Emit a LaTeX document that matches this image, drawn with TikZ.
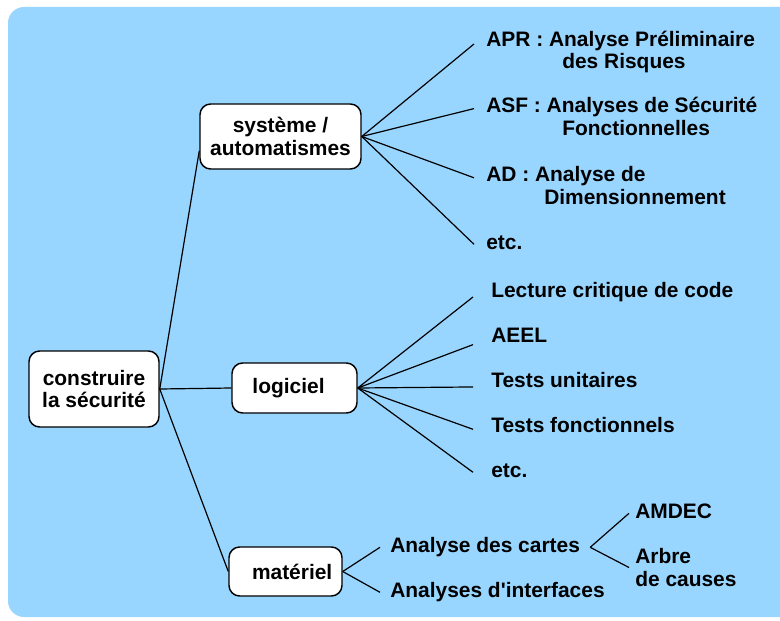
\documentclass[tikz,border=0pt]{standalone}
\usepackage{fontspec}
\setmainfont{Liberation Sans}

\begin{document}
\begin{tikzpicture}[x=0.75pt,y=0.75pt,yscale=-1,xscale=1,
	font=\fontsize{15.7}{17}\selectfont\bfseries,
	box/.style={draw=black,line width=1.1pt,fill=white,rounded corners=8pt,align=center,inner sep=0pt},
	leaf/.style={anchor=west,inner ysep=0pt,inner xsep=#1,align=left},
	oneline/.style={text height=12pt,text depth=3.5pt},
	link/.style={line width=0.9pt}]
	\useasboundingbox (0,0) rectangle (780,620);
	
	%Shape: Rounded Rect [background]
	\fill [fill={rgb, 255:red, 153; green, 214; blue, 255 }  ,fill opacity=1 ,rounded corners=12pt] (8,7) rectangle (800,617) ;
	
	%Shape: Rounded Rect [main boxes]
	\draw (94,389) node [box,minimum width=97.5pt,minimum height=57pt] (root) {construire\\la sécurité};
	\draw (280.5,136.5) node [box,minimum width=120.75pt,minimum height=48.75pt] (sys) {système /\\automatismes};
	\draw (294.5,388) node [box,minimum width=93.75pt,minimum height=37.5pt] (logi) {logiciel\hspace*{9pt}};
	\draw (285.5,571.5) node [box,minimum width=84.75pt,minimum height=36.75pt] (mat) {\hspace*{10pt}matériel};
	
	% Text Node
	\draw (474,52) node [leaf=9pt] (apr) {APR : Analyse Préliminaire\\\hspace*{57pt}des Risques};
	% Text Node
	\draw (474,116.6) node [leaf=9pt] (asf) {ASF : Analyses de Sécurité\\\hspace*{57pt}Fonctionnelles};
	% Text Node
	\draw (474,185.8) node [leaf=9pt] (ad) {AD : Analyse de\\\hspace*{43.5pt}Dimensionnement};
	% Text Node
	\draw (474,244.3) node [leaf=9pt,oneline] (etcsys) {etc.};
	
	% Text Node
	\draw (473,292.3) node [leaf=13.5pt,oneline] (lecture) {Lecture critique de code};
	% Text Node
	\draw (473,337.3) node [leaf=13.5pt,oneline] (aeel) {AEEL};
	% Text Node
	\draw (473,382.3) node [leaf=13.5pt,oneline] (unit) {Tests unitaires};
	% Text Node
	\draw (473,427.3) node [leaf=13.5pt,oneline] (fonc) {Tests fonctionnels};
	% Text Node
	\draw (473,472.3) node [leaf=13.5pt,oneline] (etclog) {etc.};
	
	% Text Node
	\draw (380,547.3) node [leaf=7.5pt,oneline] (cartes) {Analyse des cartes};
	% Text Node
	\draw (380,592.3) node [leaf=7.5pt,oneline] (interf) {Analyses d\textquotesingle interfaces};
	% Text Node
	\draw (629,513.3) node [leaf=4.5pt,oneline] (amdec) {AMDEC};
	% Text Node
	\draw (629,567.5) node [leaf=4.5pt] (arbre) {Arbre\\de causes};
	
	%Straight Lines [root]
	\draw [link] (root.east) -- (sys.190) ;
	\draw [link] (root.east) -- (logi.west) ;
	\draw [link] (root.east) -- (mat.west) ;
	%Straight Lines [systeme]
	\draw [link] (sys.east) -- ([yshift=-6pt]apr.west) ;
	\draw [link] (sys.east) -- ([yshift=-6pt]asf.west) ;
	\draw [link] (sys.east) -- ([yshift=-6pt]ad.west) ;
	\draw [link] (sys.east) -- (etcsys.west) ;
	%Straight Lines [logiciel]
	\draw [link] (logi.east) -- ([yshift=3.5pt]lecture.west) ;
	\draw [link] (logi.east) -- ([yshift=5.5pt]aeel.west) ;
	\draw [link] (logi.east) -- ([yshift=3.5pt]unit.west) ;
	\draw [link] (logi.east) -- ([yshift=1.5pt]fonc.west) ;
	\draw [link] (logi.east) -- (etclog.west) ;
	%Straight Lines [materiel]
	\draw [link] (mat.east) -- (cartes.west) ;
	\draw [link] (mat.east) -- (interf.west) ;
	\draw [link] (cartes.east) -- (amdec.west) ;
	\draw [link] (cartes.east) -- (arbre.west) ;
	
\end{tikzpicture}
\end{document}
